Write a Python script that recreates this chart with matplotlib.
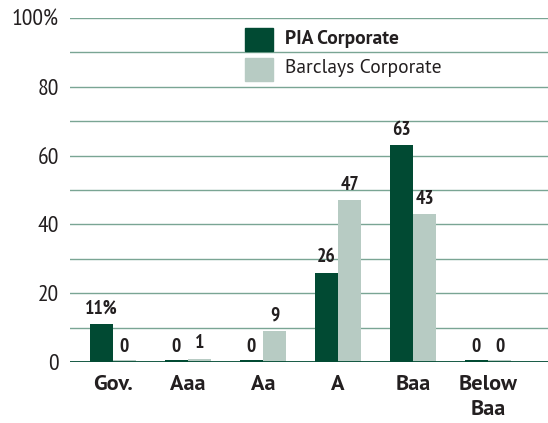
import matplotlib
matplotlib.use("Agg")
import matplotlib.pyplot as plt
from matplotlib.patches import Rectangle

categories = ["Gov.", "Aaa", "Aa", "A", "Baa", "Below\nBaa"]
pia = [11, 0, 0, 26, 63, 0]
barclays = [0, 1, 9, 47, 43, 0]
pia_labels = ["11%", "0", "0", "26", "63", "0"]
barclays_labels = ["0", "1", "9", "47", "43", "0"]
yticks = [0, 20, 40, 60, 80, 100]
ytick_labels = ["0", "20", "40", "60", "80", "100%"]

NARROW = ["PT Sans Narrow", "DejaVu Sans"]
WIDE = ["PT Sans", "DejaVu Sans"]
plt.rcParams['font.family'] = NARROW

dark = "#014a33"
light = "#b7cbc3"
grid = "#7aa594"
txt = "#231f20"

fig = plt.figure(figsize=(5.48, 4.23), dpi=100)
ax = fig.add_axes([70/548, 61/423, 478/548, 344/423])

w = 0.31
x = list(range(len(categories)))
minh = 0.5
ax.bar([i - w/2 for i in x], [max(v, minh) for v in pia], width=w, color=dark, zorder=3, align='center')
ax.bar([i + w/2 for i in x], [max(v, minh) for v in barclays], width=w, color=light, zorder=3, align='center')

for i in x:
    ax.text(i - w/2, max(pia[i], 0) + 1.8, pia_labels[i], ha='center', va='bottom',
            fontsize=14, fontweight='bold', color=txt, zorder=4)
    ax.text(i + w/2, max(barclays[i], 0) + 1.8, barclays_labels[i], ha='center', va='bottom',
            fontsize=14, fontweight='bold', color=txt, zorder=4)

for g in range(10, 101, 10):
    ax.axhline(g, color=grid, lw=1.0, zorder=1)
ax.axhline(0, color=dark, lw=2, zorder=5)

ax.set_xlim(-0.57, 5.8)
ax.set_ylim(0, 100)
ax.set_yticks(yticks)
ax.set_yticklabels(ytick_labels, fontsize=17, color=txt)
ax.set_xticks(x)
ax.set_xticklabels(categories, fontsize=16, fontweight='bold', color=txt, linespacing=1.45, va='top',
                   family=WIDE)
ax.tick_params(axis='x', length=0, pad=9)
ax.tick_params(axis='y', length=0, pad=8)
for s in ax.spines.values():
    s.set_visible(False)

# legend
fig.patches.append(Rectangle((245/548, 1 - 51/423), 28/548, 23/423, transform=fig.transFigure,
                             color=dark, zorder=5))
fig.patches.append(Rectangle((245/548, 1 - 81/423), 28/548, 23/423, transform=fig.transFigure,
                             color=light, zorder=5))
fig.text(285/548, 1 - 39/423, "PIA Corporate", fontsize=14, fontweight='bold', color=txt, va='center',
         family=WIDE)
fig.text(285/548, 1 - 68/423, "Barclays Corporate", fontsize=14, color=txt, va='center', family=WIDE)

fig.savefig("out.png", dpi=100)
